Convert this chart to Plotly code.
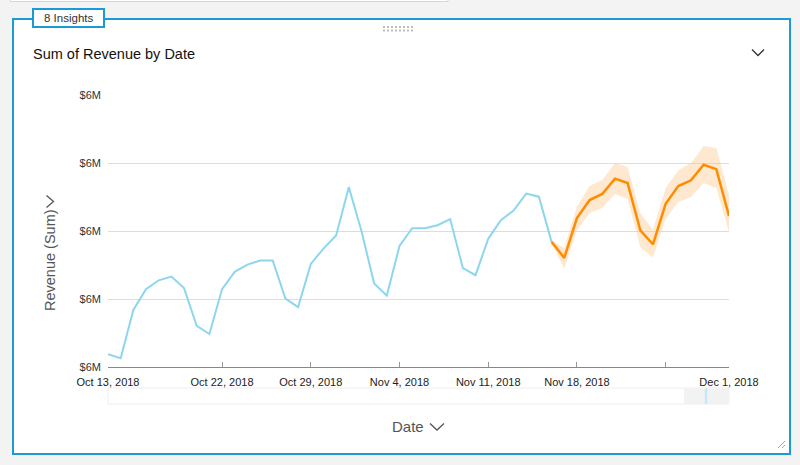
import pandas as pd
import plotly.graph_objects as go

# ---------------- data ----------------
start_date = "2018-10-13"
n_days = 50
dates = pd.date_range(start_date, periods=n_days, freq="D")

actual_revenue = [5.638, 5.626, 5.768, 5.829, 5.855, 5.866, 5.832, 5.721, 5.697, 5.829,
                  5.880, 5.901, 5.913, 5.913, 5.801, 5.776, 5.903, 5.948, 5.987, 6.129,
                  6.000, 5.846, 5.810, 5.956, 6.008, 6.008, 6.017, 6.035, 5.891, 5.870,
                  5.977, 6.032, 6.060, 6.110, 6.101, 5.968]

forecast_revenue = [5.968, 5.921, 6.038, 6.091, 6.109, 6.154, 6.141, 6.002, 5.961, 6.080,
                    6.132, 6.149, 6.195, 6.182, 6.044]
forecast_upper = [5.972, 5.950, 6.071, 6.132, 6.150, 6.200, 6.188, 6.053, 6.003, 6.126,
                  6.179, 6.200, 6.250, 6.244, 6.106]
forecast_lower = [5.964, 5.888, 6.003, 6.053, 6.068, 6.109, 6.094, 5.953, 5.921, 6.035,
                  6.085, 6.100, 6.141, 6.126, 5.997]

y_tick_values = [5.6, 5.8, 6.0, 6.2, 6.4]
y_tick_labels = ["$6M", "$6M", "$6M", "$6M", "$6M"]

x_tick_dates = ["2018-10-13", "2018-10-22", "2018-10-29", "2018-11-05",
                "2018-11-12", "2018-11-19", "2018-11-26", "2018-12-01"]
x_tick_labels = ["Oct 13, 2018", "Oct 22, 2018", "Oct 29, 2018", "Nov 4, 2018",
                 "Nov 11, 2018", "Nov 18, 2018", "", "Dec 1, 2018"]

actual_dates = dates[:len(actual_revenue)]
forecast_dates = dates[len(actual_revenue) - 1:]

# ---------------- figure ----------------
W, H = 800, 465
L, R, T, B = 108, 71, 95, 98
PW, PH = W - L - R, H - T - B


def PX(x):
    return (x - L) / PW


def PY(y):
    return (H - B - y) / PH


FONT = "Liberation Sans, Arial, Helvetica, sans-serif"

fig = go.Figure()

fig.add_trace(go.Scatter(
    x=list(forecast_dates) + list(forecast_dates[::-1]),
    y=forecast_upper + forecast_lower[::-1],
    fill="toself", fillcolor="rgba(253,190,120,0.35)",
    line=dict(width=0), mode="lines", hoverinfo="skip", showlegend=False))

fig.add_trace(go.Scatter(
    x=actual_dates, y=actual_revenue, mode="lines",
    line=dict(color="#8dd6ee", width=2), showlegend=False))

fig.add_trace(go.Scatter(
    x=forecast_dates, y=forecast_revenue, mode="lines",
    line=dict(color="#ff8c00", width=2.5), showlegend=False))

shapes = []
# top neighbour card shadow
shapes.append(dict(type="rect", xref="paper", yref="paper",
                   x0=PX(10), x1=PX(448), y0=PY(-6), y1=PY(1.5),
                   fillcolor="white", line=dict(color="#d6d6d6", width=1), layer="below"))
# card
shapes.append(dict(type="rect", xref="paper", yref="paper",
                   x0=PX(13), x1=PX(790), y0=PY(454), y1=PY(19),
                   fillcolor="white", line=dict(color="#1b9ad6", width=2), layer="below"))
# badge
shapes.append(dict(type="rect", xref="paper", yref="paper",
                   x0=PX(33), x1=PX(104), y0=PY(27), y1=PY(9),
                   fillcolor="white", line=dict(color="#1b9ad6", width=2), layer="above"))
# drag handle dots
for row_y in (27, 30.5):
    for k in range(8):
        cx = 384 + k * 4
        shapes.append(dict(type="rect", xref="paper", yref="paper",
                           x0=PX(cx - 1), x1=PX(cx + 1), y0=PY(row_y + 1), y1=PY(row_y - 1),
                           fillcolor="#bdbdbd", line=dict(width=0), layer="above"))
# chevrons
def chevron(path_pts, color="#444", width=1.3):
    d = "M " + " L ".join(f"{PX(x)},{PY(y)}" for x, y in path_pts)
    return dict(type="path", xref="paper", yref="paper", path=d,
                line=dict(color=color, width=width), layer="above")

shapes.append(chevron([(752, 49.5), (758, 55.5), (764, 49.5)], "#333"))
shapes.append(chevron([(430, 423.5), (437, 430), (444, 423.5)], "#555"))
shapes.append(chevron([(46.5, 195.5), (53.5, 201.5), (46.5, 207.5)], "#555"))
# resize handle
shapes.append(dict(type="line", xref="paper", yref="paper",
                   x0=PX(778), x1=PX(785), y0=PY(448), y1=PY(441),
                   line=dict(color="#aaa", width=1)))
shapes.append(dict(type="line", xref="paper", yref="paper",
                   x0=PX(782), x1=PX(785), y0=PY(448), y1=PY(445),
                   line=dict(color="#aaa", width=1)))
# range-slider mini map
shapes.append(dict(type="rect", xref="paper", yref="paper",
                   x0=PX(108), x1=PX(729), y0=PY(404), y1=PY(388),
                   fillcolor="white", line=dict(color="#eeeeee", width=1), layer="below"))
shapes.append(dict(type="rect", xref="paper", yref="paper",
                   x0=PX(684), x1=PX(728.5), y0=PY(404), y1=PY(388.5),
                   fillcolor="#f2f2f2", line=dict(width=0), layer="below"))
shapes.append(dict(type="line", xref="paper", yref="paper",
                   x0=PX(706), x1=PX(706), y0=PY(404), y1=PY(388.5),
                   line=dict(color="#c4e8f7", width=2.5)))

annotations = [
    dict(text="8 Insights", xref="paper", yref="paper", x=PX(68.5), y=PY(18),
         showarrow=False, font=dict(family=FONT, size=11.5, color="#333"),
         xanchor="center", yanchor="middle"),
    dict(text="Sum of Revenue by Date", xref="paper", yref="paper", x=PX(31), y=PY(54),
         showarrow=False, font=dict(family=FONT, size=14.5, color="#111"),
         xanchor="left", yanchor="middle"),
    dict(text="Revenue (Sum)", xref="paper", yref="paper", x=PX(50), y=PY(260),
         showarrow=False, textangle=-90, font=dict(family=FONT, size=14.5, color="#555"),
         xanchor="center", yanchor="middle"),
    dict(text="Date", xref="paper", yref="paper", x=PX(408), y=PY(426),
         showarrow=False, font=dict(family=FONT, size=15, color="#555"),
         xanchor="center", yanchor="middle"),
]

fig.update_layout(
    width=W, height=H,
    margin=dict(l=L, r=R, t=T, b=B, pad=0),
    paper_bgcolor="#f3f3f3", plot_bgcolor="rgba(0,0,0,0)",
    shapes=shapes, annotations=annotations,
    showlegend=False,
    font=dict(family=FONT),
    xaxis=dict(
        type="date",
        range=[dates[0], dates[-1]],
        tickvals=x_tick_dates, ticktext=x_tick_labels,
        ticks="inside", ticklen=5, tickcolor="#999", tickwidth=1,
        showline=True, linecolor="#888", linewidth=1,
        showgrid=False, zeroline=False,
        ticklabelstandoff=5,
        tickfont=dict(family=FONT, size=11, color="#222"),
        fixedrange=True,
    ),
    yaxis=dict(
        range=[5.6, 6.4],
        tickvals=y_tick_values, ticktext=y_tick_labels,
        showgrid=True, gridcolor="#dddddd", gridwidth=1,
        zeroline=False, showline=False, ticks="",
        ticklabelstandoff=6,
        tickfont=dict(family=FONT, size=11, color="#333"),
        fixedrange=True,
    ),
)

fig.write_html(
    "out.html",
    config={"displayModeBar": False},
    post_script="document.body.style.margin='0';document.body.style.background='#f3f3f3';",
)
